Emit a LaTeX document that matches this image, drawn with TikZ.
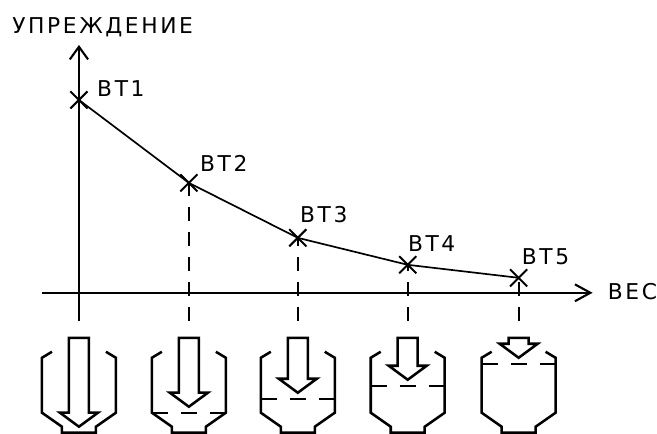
\documentclass[tikz,border=0pt]{standalone}
\usepackage{fontspec}
\usetikzlibrary{arrows.meta,shapes.misc}
\newfontfamily\lblfont[LetterSpace=12]{DejaVu Sans}

\tikzset{
	axis/.style={line width=1.5pt,-{Straight Barb[length=9pt,width=13pt]}},
	curve/.style={line width=1.2pt},
	pt/.style={draw,cross out,line width=1.4pt,minimum size=3.8mm,inner sep=0pt},
	guide/.style={line width=1.6pt,dash pattern=on 3.5mm off 2.75mm},
	tank/.style={line width=1.8pt},
	level/.style={line width=1.7pt,dash pattern=on 4mm off 3.25mm},
	lbl/.style={font={\lblfont\fontsize{15.5}{18}\selectfont},inner sep=0pt,anchor=base west},
}

\begin{document}
\begin{tikzpicture}[x=0.25mm,y=0.25mm]
			\fill[white] (-79,-141) rectangle (578,293);
			% axes
			\draw[axis] (0,-28) -- (0,248);
			\draw[axis,-{Straight Barb[length=11pt,width=12pt]}] (-37,0) -- (514,0);
			\node[lbl] (ylab) at (-67,259) {УПРЕЖДЕНИЕ};
			\node[lbl] (xlab) at (529,-7) {ВЕС};
			% points
			\node[pt] (bt1) at (0,193) {};
			\node[pt] (bt2) at (110,110) {};
			\node[pt] (bt3) at (219,55) {};
			\node[pt] (bt4) at (329,28) {};
			\node[pt] (bt5) at (440,15) {};
			\draw[curve] (bt1.center) -- (bt2.center) -- (bt3.center) -- (bt4.center) -- (bt5.center);
			\node[lbl] (l1) at (18,196) {ВТ1};
			\node[lbl] (l2) at (121,121) {ВТ2};
			\node[lbl] (l3) at (221,70) {ВТ3};
			\node[lbl] (l4) at (329,41) {ВТ4};
			\node[lbl] (l5) at (443,28) {ВТ5};
			\foreach \n/\x in {2/110,3/219,4/329,5/440}
				\draw[guide] (\x,-28) -- (bt\n.center);
			% tanks with fill arrows
			\foreach \x/\lv in {0/-140,110/-120,219/-106,329/-93,440/-71} {
				\draw[tank] (\x-27,-59) -- (\x-37,-65) -- (\x-37,-120) -- (\x-17,-134) -- (\x-17,-140)
					-- (\x+17,-140) -- (\x+17,-134) -- (\x+37,-120) -- (\x+37,-65) -- (\x+27,-59);
				\draw[tank] (\x-10,-45) -- (\x-10,\lv+20) -- (\x-19,\lv+20) -- (\x,\lv+6)
					-- (\x+19,\lv+20) -- (\x+10,\lv+20) -- (\x+10,-45) -- cycle;
			}
			\foreach \x/\lv in {110/-120,219/-106,329/-93,440/-71}
				\draw[level] (\x-37,\lv) -- (\x+37,\lv);
\end{tikzpicture}
\end{document}
